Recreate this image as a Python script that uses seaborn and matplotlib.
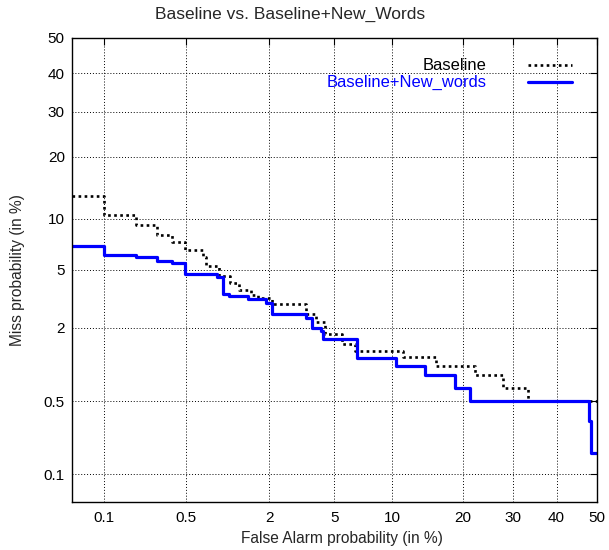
import numpy as np
import pandas as pd
import matplotlib
matplotlib.use("Agg")
import matplotlib.pyplot as plt
import seaborn as sns
from statistics import NormalDist

# DET curve values, both axes in %
base_fa = [0.05, 0.1, 0.195, 0.29, 0.39, 0.49, 0.68, 0.72, 0.9, 1.07, 1.24, 1.5, 1.68,
           2.1, 3.4, 3.9, 4.4, 5.5, 6.5, 11.2, 15.7, 22.2, 27.7, 33.3, 50]
base_miss = [13.1, 10.4, 9.2, 8.1, 7.4, 6.6, 6.0, 5.3, 4.6, 4.1, 3.7, 3.4, 3.25,
             2.95, 2.5, 2.2, 1.8, 1.5, 1.33, 1.18, 1.0, 0.85, 0.66, 0.5, 0.5]

new_fa = [0.05, 0.1, 0.195, 0.29, 0.39, 0.49, 0.86, 0.95, 1.06, 1.44, 1.92, 2.1,
          3.4, 3.7, 4.2, 4.3, 6.6, 10.4, 14.0, 18.7, 21.4, 48.1, 48.4, 50]
new_miss = [7.0, 6.2, 6.0, 5.7, 5.5, 4.7, 4.5, 3.5, 3.35, 3.2, 3.0, 2.5,
            2.35, 2.0, 1.9, 1.65, 1.17, 1.0, 0.85, 0.66, 0.5, 0.33, 0.165, 0.165]

tick_vals = [0.1, 0.5, 2, 5, 10, 20, 30, 40, 50]
tick_labels = ["0.1", "0.5", "2", "5", "10", "20", "30", "40", "50"]

sns.set_style("white")
plt.rcParams["font.family"] = ["Liberation Sans", "DejaVu Sans"]

nd = NormalDist()
_ppf = np.vectorize(lambda p: nd.inv_cdf(min(max(p / 100.0, 1e-12), 1 - 1e-12)) if p == p else np.nan,
                    otypes=[float])
_cdf = np.vectorize(lambda z: nd.cdf(z) * 100.0 if z == z else np.nan, otypes=[float])


def fwd(p):
    return _ppf(np.asarray(p, dtype=float))


def inv(z):
    return _cdf(np.asarray(z, dtype=float))


fig = plt.figure(figsize=(6.09, 5.5), dpi=100)
ax = fig.add_axes([71.7 / 609, 1 - 502.3 / 550, (597 - 71.7) / 609, (502.3 - 37.7) / 550])

df_base = pd.DataFrame({"fa": base_fa, "miss": base_miss})
df_new = pd.DataFrame({"fa": new_fa, "miss": new_miss})

sns.lineplot(data=df_base, x="fa", y="miss", ax=ax, estimator=None, sort=False,
             drawstyle="steps-post", color="black", lw=1.9, linestyle=(0, (1, 1.3)),
             label="Baseline")
sns.lineplot(data=df_new, x="fa", y="miss", ax=ax, estimator=None, sort=False,
             drawstyle="steps-post", color="#0000ff", lw=2.3, label="Baseline+New_words")

ax.set_xscale("function", functions=(fwd, inv))
ax.set_yscale("function", functions=(fwd, inv))
ax.set_xlim(0.05, 50)
ax.set_ylim(0.05, 50)
ax.set_xticks(tick_vals)
ax.set_xticklabels(tick_labels)
ax.set_yticks(tick_vals)
ax.set_yticklabels(tick_labels)
ax.minorticks_off()

ax.grid(True, color="black", linestyle=(0, (1, 2)), linewidth=0.7)
ax.tick_params(direction="in", length=5, width=0.8, top=True, right=True,
               labelsize=11, colors="black")
ax.tick_params(axis="x", pad=6)
ax.tick_params(axis="y", pad=5)
for s in ax.spines.values():
    s.set_color("black")
    s.set_linewidth(1.0)

ax.set_xlabel("False Alarm probability (in %)", fontsize=11.2)
ax.set_ylabel("Miss probability (in %)", fontsize=11.2)
ax.xaxis.set_label_coords(0.5 + 8 / 525.3, -0.062)
ax.yaxis.set_label_coords(-0.088, 0.5)

fig.text(290 / 609, 1 - 14 / 550, "Baseline vs. Baseline+New_Words", ha="center", va="center",
         fontsize=12.5)

leg = ax.legend(loc="upper right", frameon=False, markerfirst=False, fontsize=11.9,
                handlelength=2.67, handletextpad=2.5, labelspacing=0.12,
                bbox_to_anchor=(1 - 18 / 525.3, 1 - 14 / 464.6), borderaxespad=0,
                labelcolor=["black", "#0000ff"])

fig.savefig("out.png", dpi=100)
